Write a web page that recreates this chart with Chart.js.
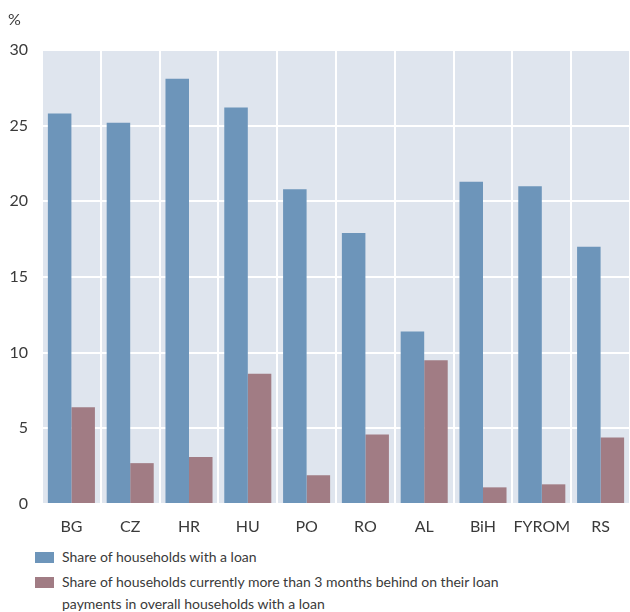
<!DOCTYPE html>
<html>
<head>
<meta charset="utf-8">
<script src="https://cdn.jsdelivr.net/npm/chart.js@4"></script>
<style>
  html, body { margin: 0; padding: 0; background: #fff; }
  #wrap { position: relative; width: 630px; height: 540px; }
  #legend { margin: 6px 0 0 35px; font-family: Lato, "Open Sans", sans-serif; font-size: 14px; color: #3a3a3a; width: 480px; }
  .item { display: flex; align-items: flex-start; line-height: 22px; margin-bottom: 3px; }
  .sw { width: 19px; height: 11px; margin-top: 6px; margin-right: 8px; flex: none; }
</style>
</head>
<body>
<div id="wrap"><canvas id="c"></canvas></div>
<div id="legend"></div>
<script>
const categories = ["BG", "CZ", "HR", "HU", "PO", "RO", "AL", "BiH", "FYROM", "RS"];
const seriesNames = [
  "Share of households with a loan",
  "Share of households currently more than 3 months behind on their loan payments in overall households with a loan"
];
const withLoan = [25.8, 25.2, 28.1, 26.2, 20.8, 17.9, 11.4, 21.3, 21.0, 17.0];
const behind = [6.4, 2.7, 3.1, 8.6, 1.9, 4.6, 9.5, 1.1, 1.3, 4.4];
const yTicks = [0, 5, 10, 15, 20, 25, 30];
const colors = ["#6d95ba", "#a17c84"];

const bgPlugin = {
  id: "bg",
  beforeDraw(chart) {
    const { ctx, chartArea: a } = chart;
    ctx.save();
    ctx.fillStyle = "#dfe5ee";
    ctx.fillRect(a.left, a.top, a.right - a.left, a.bottom - a.top);
    ctx.restore();
  },
  afterDraw(chart) {
    const { ctx } = chart;
    ctx.save();
    ctx.fillStyle = "#3a3a3a";
    ctx.font = "16px Lato, 'Open Sans', sans-serif";
    ctx.textAlign = "left";
    ctx.textBaseline = "middle";
    ctx.fillText("%", 8, 20);
    ctx.restore();
  }
};

new Chart(document.getElementById("c"), {
  type: "bar",
  data: {
    labels: categories,
    datasets: [
      { label: seriesNames[0], data: withLoan, backgroundColor: colors[0] },
      { label: seriesNames[1], data: behind, backgroundColor: colors[1] }
    ]
  },
  options: {
    responsive: true,
    maintainAspectRatio: false,
    animation: false,
    layout: { padding: { top: 50, right: 0, left: 0, bottom: 0 } },
    datasets: { bar: { categoryPercentage: 0.8, barPercentage: 1.0, borderWidth: 0 } },
    plugins: { legend: { display: false }, tooltip: { enabled: false } },
    scales: {
      x: {
        afterFit(scale) { scale.height = 36; },
        grid: { color: "#ffffff", lineWidth: 2, offset: true, drawTicks: false },
        border: { display: false },
        ticks: { color: "#3a3a3a", font: { family: "Lato, 'Open Sans', sans-serif", size: 16 }, padding: 13, maxRotation: 0, minRotation: 0, autoSkip: false }
      },
      y: {
        min: 0, max: 30,
        afterFit(scale) { scale.width = 42; },
        afterBuildTicks(scale) { scale.ticks = yTicks.map(v => ({ value: v })); },
        grid: { color: "#ffffff", lineWidth: 2, drawTicks: false },
        border: { display: false },
        ticks: { color: "#3a3a3a", font: { family: "Lato, 'Open Sans', sans-serif", size: 16 }, padding: 14 }
      }
    }
  },
  plugins: [bgPlugin]
});

const lg = document.getElementById("legend");
seriesNames.forEach((n, i) => {
  const d = document.createElement("div");
  d.className = "item";
  const s = document.createElement("span");
  s.className = "sw"; s.style.background = colors[i];
  const t = document.createElement("span");
  t.textContent = n;
  d.appendChild(s); d.appendChild(t);
  lg.appendChild(d);
});
</script>
</body>
</html>
